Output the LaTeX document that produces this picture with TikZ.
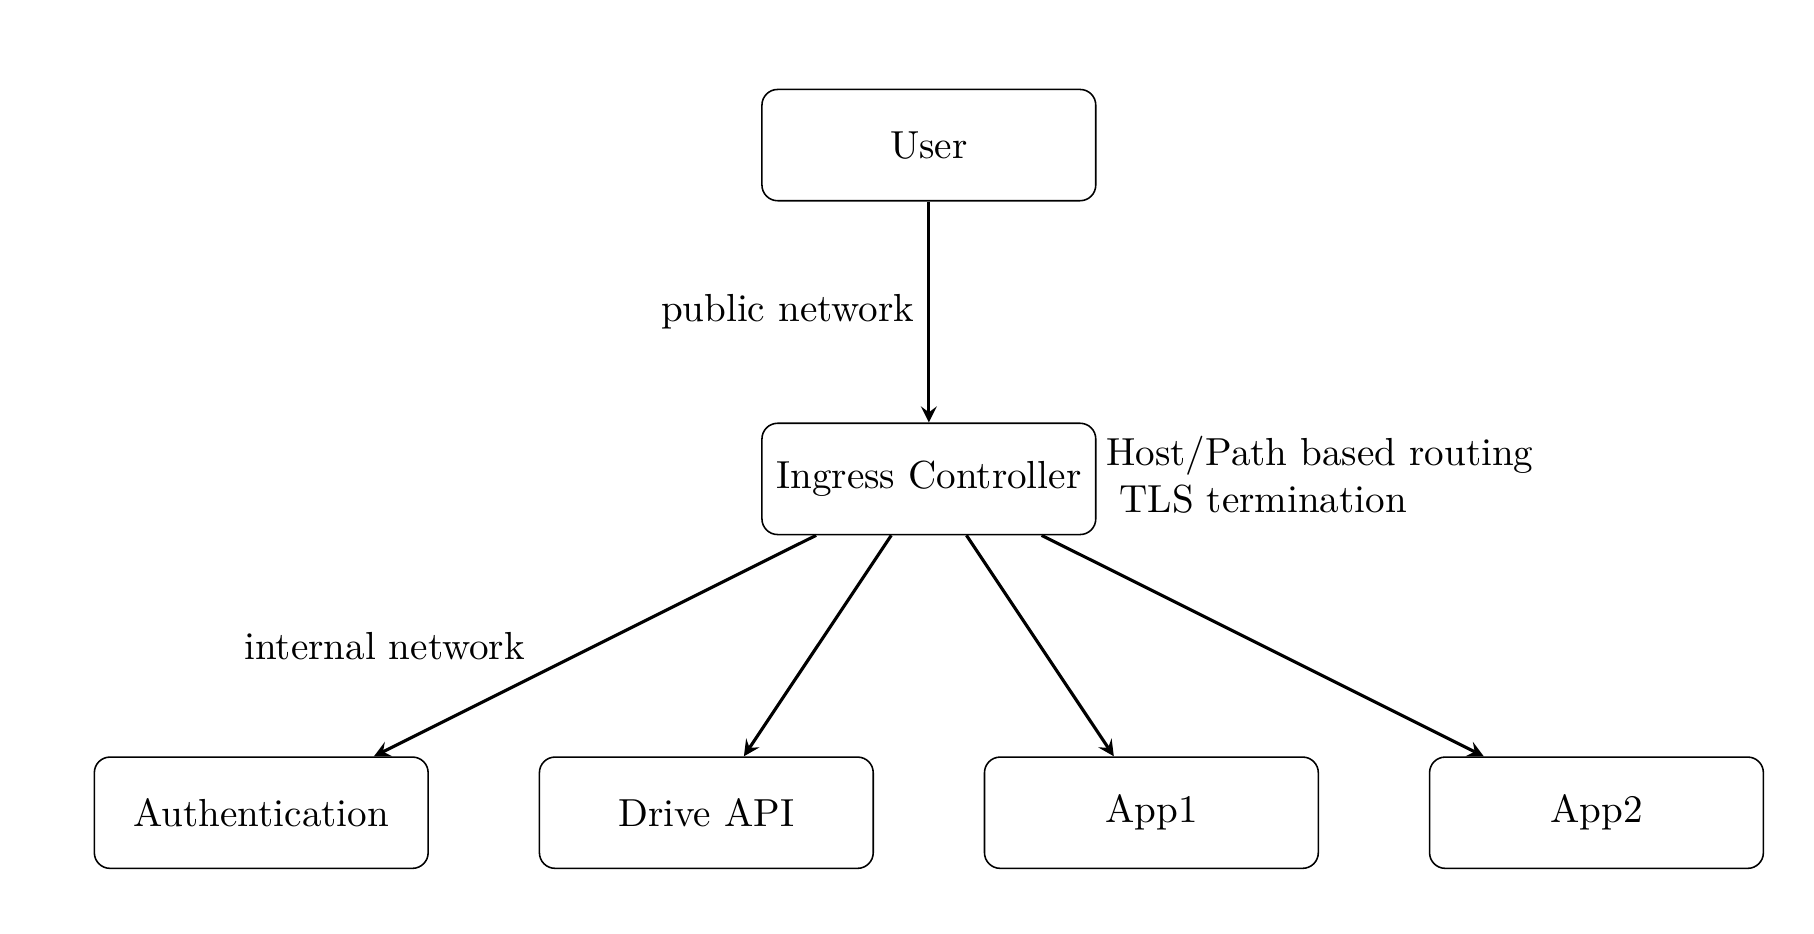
\documentclass[tikz,border=0pt]{standalone}
\usetikzlibrary{positioning,arrows}

\begin{document}
\begin{tikzpicture}[
    box/.style={draw,rounded corners,minimum width=3cm,minimum height=1cm},
    arr/.style={-stealth,thick}
  ]
  \useasboundingbox (-8.348,-4.09) rectangle (7.955,4.304);
  \node[box] (ingress) at (0,0) {Ingress Controller};
  \node[box] (user) at (0,3) {User};
  \node[box] (auth) at (-6,-3) {Authentication};
  \node[box] (drive) at (-2,-3) {Drive API};
  \node[box] (app1) at (2,-3) {App1};
  \node[box] (app2) at (6,-3) {App2};
  \node[right,align=left,xshift=-1pt,yshift=1pt] (routing) at (ingress.east) {Host/Path based routing\\\ TLS termination};

  \draw[arr] (user) -- (ingress) node[midway,left]{public network};
  \draw[arr] (ingress) -- (auth) node[midway,left=5mm]{internal network};
  \draw[arr] (ingress) -- (drive);
  \draw[arr] (ingress) -- (app1);
  \draw[arr] (ingress) -- (app2);
\end{tikzpicture}
\end{document}
